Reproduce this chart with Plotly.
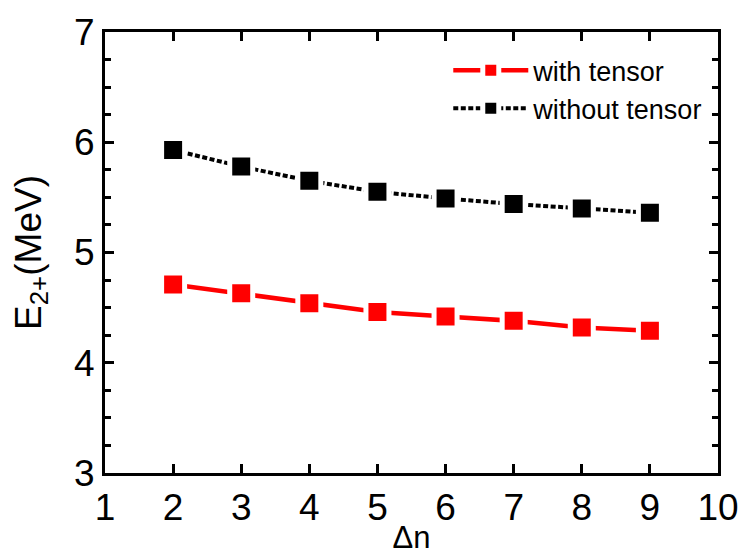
import plotly.graph_objects as go

delta_n = [2, 3, 4, 5, 6, 7, 8, 9]
with_tensor = [4.71, 4.63, 4.54, 4.46, 4.42, 4.38, 4.32, 4.29]
without_tensor = [5.93, 5.78, 5.65, 5.55, 5.49, 5.44, 5.40, 5.36]

FONT = "Liberation Sans, Arial"

fig = go.Figure()
fig.add_trace(go.Scatter(
    x=delta_n, y=with_tensor, name="with tensor", mode="lines+markers",
    line=dict(color="#ff0000", width=4.5),
    marker=dict(symbol="square", size=23, color="#ff0000",
                line=dict(color="white", width=5)),
))
fig.add_trace(go.Scatter(
    x=delta_n, y=without_tensor, name="without tensor", mode="lines+markers",
    line=dict(color="#000000", width=4, dash="5px,2.5px"),
    marker=dict(symbol="square", size=23, color="#000000",
                line=dict(color="white", width=5)),
))

axis_common = dict(
    showline=True, linecolor="black", linewidth=3, mirror="allticks",
    ticks="inside", ticklen=9, tickwidth=2.5, tickcolor="black",
    showgrid=False, zeroline=False, automargin=False,
    tickfont=dict(family=FONT, size=37, color="black"),
)

fig.update_xaxes(
    range=[1, 10], dtick=1, tick0=1,
    title=dict(text="Δn", font=dict(family=FONT, size=31, color="black"), standoff=6),
    **axis_common,
)
fig.update_yaxes(
    range=[3, 7], dtick=1, tick0=3,
    minor=dict(dtick=0.25, ticks="inside", ticklen=6, tickwidth=2.5, tickcolor="black"),
    title=dict(text="E<sub>2+</sub>(MeV)", font=dict(family=FONT, size=37, color="black"), standoff=22),
    **axis_common,
)

fig.update_layout(
    width=752, height=555,
    margin=dict(l=105, r=34, t=32, b=82),
    plot_bgcolor="white", paper_bgcolor="white",
    showlegend=True,
    legend=dict(
        x=0.56, y=0.968, xanchor="left", yanchor="top",
        font=dict(family=FONT, size=27, color="black"),
        bgcolor="rgba(0,0,0,0)", itemwidth=75, tracegroupgap=0,
    ),
)

fig.write_html("out.html")
